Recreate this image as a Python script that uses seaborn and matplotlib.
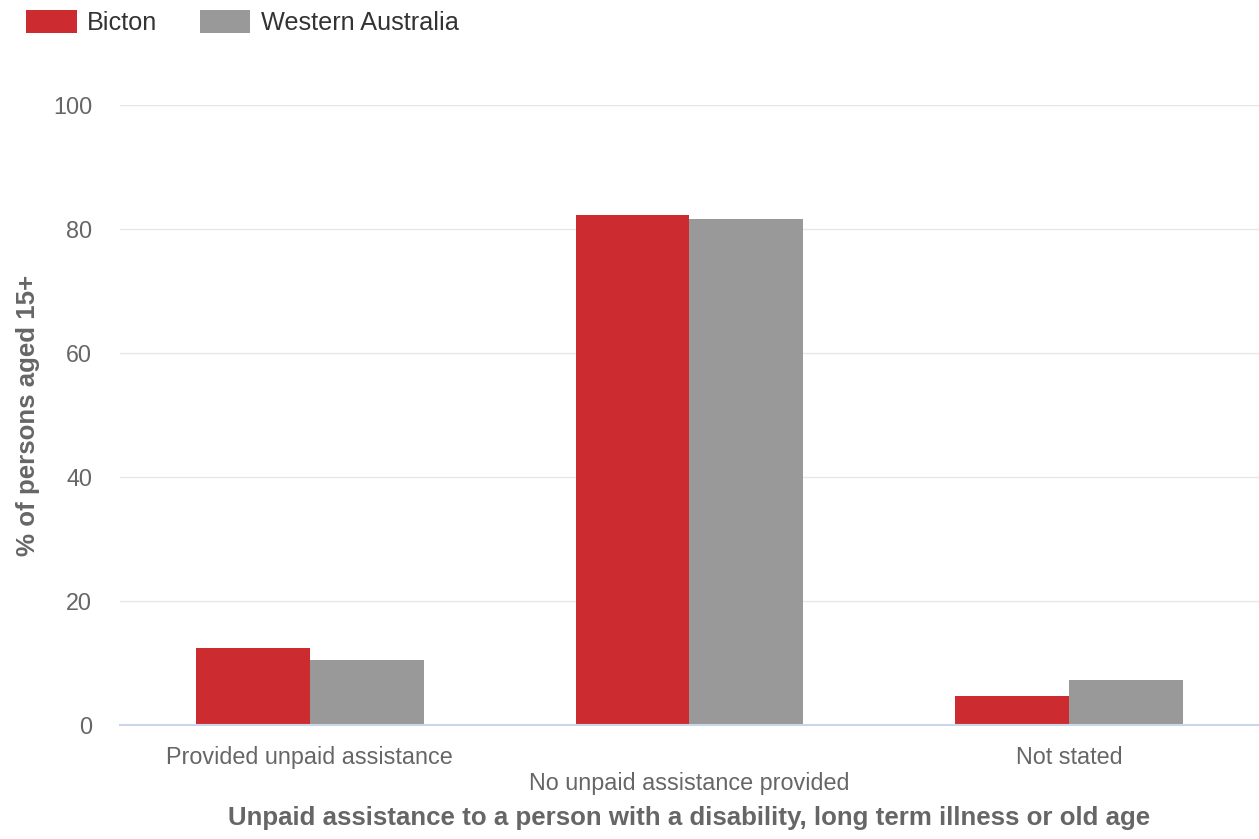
import matplotlib
matplotlib.use("Agg")
import matplotlib.pyplot as plt
import seaborn as sns
import pandas as pd
from matplotlib.patches import Patch

categories = ["Provided unpaid assistance", "No unpaid assistance provided", "Not stated"]
series_names = ["Bicton", "Western Australia"]
bicton = [12.4, 82.3, 4.7]
western_australia = [10.5, 81.6, 7.3]
y_ticks = [0, 20, 40, 60, 80, 100]
colors = ["#cc2b30", "#999999"]

sns.set_style("white")
plt.rcParams["font.family"] = ["Liberation Sans", "DejaVu Sans"]

df = pd.DataFrame({
    "category": categories * 2,
    "series": [series_names[0]] * 3 + [series_names[1]] * 3,
    "value": bicton + western_australia,
})

fig = plt.figure(figsize=(12.59, 8.39), dpi=100)
ax = fig.add_axes([120 / 1259, 114 / 839, 1139 / 1259, 620 / 839])

sns.barplot(data=df, x="category", y="value", hue="series", order=categories,
            hue_order=series_names, palette=colors, width=0.6, errorbar=None,
            saturation=1, ax=ax, legend=False, linewidth=0)

ax.set_xlim(-0.5, 2.5)
ax.set_ylim(0, 100)
ax.set_yticks(y_ticks)
ax.set_yticklabels([str(t) for t in y_ticks])
ax.grid(axis="y", color="#e6e6e6", linewidth=1)
ax.set_axisbelow(True)
for s in ["top", "right", "left"]:
    ax.spines[s].set_visible(False)
ax.spines["bottom"].set_color("#ccd6eb")
ax.spines["bottom"].set_linewidth(1.5)

ax.tick_params(axis="y", length=0, pad=20, labelsize=16.8, labelcolor="#666666")
ax.tick_params(axis="x", length=7, width=1, color="#ccd6eb", pad=8,
               labelsize=16.8, labelcolor="#666666")
labels = [c if i % 2 == 0 else "\n" + c for i, c in enumerate(categories)]
ax.set_xticks(range(len(categories)))
ax.set_xticklabels(labels)

ax.set_xlabel("Unpaid assistance to a person with a disability, long term illness or old age",
              fontsize=18.6, fontweight="bold", color="#666666")
ax.set_ylabel("% of persons aged 15+", fontsize=18.6, fontweight="bold", color="#666666")
ax.xaxis.set_label_coords(0.5, -(806 - 725) / 620)
ax.yaxis.set_label_coords(-80 / 1139, 0.5)

handles = [Patch(facecolor=c, edgecolor="none") for c in colors]
fig.legend(handles, series_names, loc="center left",
           bbox_to_anchor=(26 / 1259, 1 - 22.5 / 839), ncol=2, frameon=False,
           fontsize=18.2, handlelength=2.0, handleheight=1.0, handletextpad=0.4,
           columnspacing=1.7, borderpad=0, borderaxespad=0, labelcolor="#333333")

fig.savefig("out.png", dpi=100)
